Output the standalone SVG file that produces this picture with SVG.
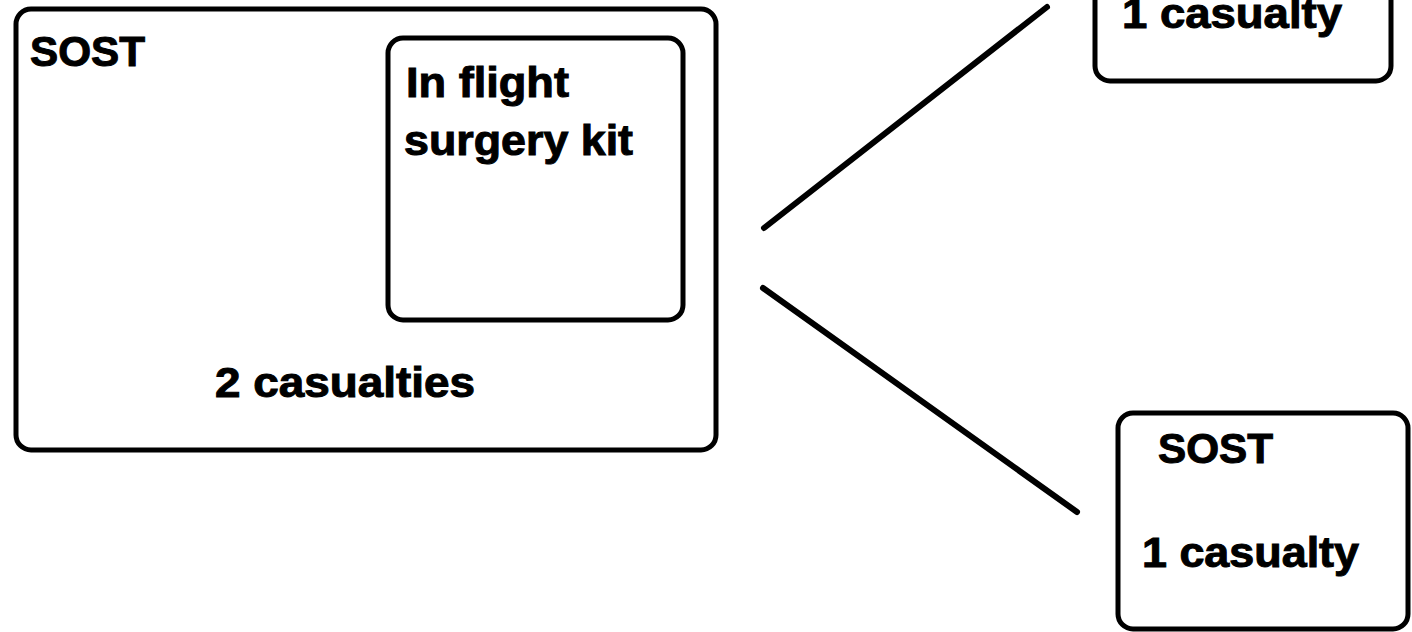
<svg xmlns="http://www.w3.org/2000/svg" width="1412" height="632" viewBox="0 0 1412 632">
<style>
.box{fill:#fff;stroke:#000;stroke-width:5}
.t{font-family:"Liberation Sans",Arial,sans-serif;font-weight:bold;font-size:42px;fill:#000;stroke:#000;stroke-width:1}
.c{stroke:#000;stroke-width:6;stroke-linecap:round;fill:none}
</style>
<rect x="0" y="0" width="1412" height="632" fill="#fff"/>
<g id="sost-main">
<rect class="box" x="16" y="9" width="700" height="441" rx="15"/>
<text class="t" x="30" y="66" textLength="115" lengthAdjust="spacingAndGlyphs">SOST</text>
<text class="t" x="215" y="397" textLength="260" lengthAdjust="spacingAndGlyphs">2 casualties</text>
</g>
<g id="kit">
<rect class="box" x="388" y="38" width="295" height="282" rx="15"/>
<text class="t" x="406" y="97" textLength="163" lengthAdjust="spacingAndGlyphs">In flight</text>
<text class="t" x="404" y="155" textLength="229" lengthAdjust="spacingAndGlyphs">surgery kit</text>
</g>
<g id="sost-top">
<rect class="box" x="1095" y="-140" width="296" height="221" rx="15"/>
<text class="t" x="1122" y="28" textLength="220" lengthAdjust="spacingAndGlyphs">1 casualty</text>
</g>
<g id="sost-bottom">
<rect class="box" x="1118" y="413" width="290" height="216" rx="15"/>
<text class="t" x="1158" y="463" textLength="115" lengthAdjust="spacingAndGlyphs">SOST</text>
<text class="t" x="1142" y="567" textLength="217" lengthAdjust="spacingAndGlyphs">1 casualty</text>
</g>
<g id="connectors">
<line class="c" x1="764" y1="228" x2="1047" y2="7"/>
<line class="c" x1="763" y1="288" x2="1077" y2="512"/>
</g>
</svg>
